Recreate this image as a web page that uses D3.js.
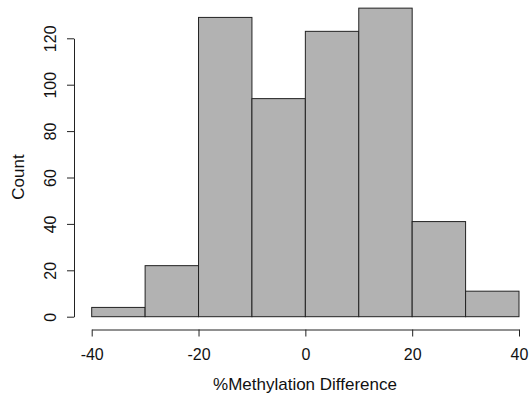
<!DOCTYPE html>
<html>
<head>
<meta charset="utf-8">
<script src="https://cdn.jsdelivr.net/npm/d3@7"></script>
<style>
  body { margin: 0; background: #fff; }
  svg { font-family: "Liberation Sans", Arial, sans-serif; }
</style>
</head>
<body>
<div id="chart"></div>
<script>
// histogram bins (lower edges) and counts
const binStarts = [-40, -30, -20, -10, 0, 10, 20, 30];
const binWidth = 10;
const counts = [4, 22, 129, 94, 123, 133, 41, 11];
const xTicks = [-40, -20, 0, 20, 40];
const yTicks = [0, 20, 40, 60, 80, 100, 120];

const width = 529, height = 397;

const x = d3.scaleLinear().domain([-40, 40]).range([91.7, 519]);
const y = d3.scaleLinear().domain([0, 120]).range([316.7, 38.3]);

const svg = d3.select('#chart').append('svg')
  .attr('width', width)
  .attr('height', height);

// bars
svg.append('g')
  .selectAll('rect')
  .data(binStarts)
  .join('rect')
  .attr('x', (d) => x(d))
  .attr('y', (d, i) => y(counts[i]))
  .attr('width', (d) => x(d + binWidth) - x(d))
  .attr('height', (d, i) => y(0) - y(counts[i]))
  .attr('fill', '#b2b2b2')
  .attr('stroke', '#222')
  .attr('stroke-width', 1);

// y axis
svg.append('g')
  .attr('transform', 'translate(74,0)')
  .call(d3.axisLeft(y).tickValues(yTicks).tickFormat((d) => String(d)).tickSize(7).tickSizeOuter(0))
  .call((g) => g.selectAll('line, path').attr('stroke', '#222'))
  .call((g) => g.selectAll('text')
    .attr('transform', 'rotate(-90)')
    .attr('text-anchor', 'middle')
    .attr('x', 0)
    .attr('y', -18.5)
    .attr('dy', 0)
    .attr('fill', '#111')
    .style('font-size', '16px')
    .style('font-family', '"Liberation Sans", Arial, sans-serif'));

// x axis
svg.append('g')
  .attr('transform', 'translate(0,329.5)')
  .call(d3.axisBottom(x).tickValues(xTicks).tickFormat((d) => String(d)).tickSize(7).tickSizeOuter(0))
  .call((g) => g.selectAll('line, path').attr('stroke', '#222'))
  .call((g) => g.selectAll('text')
    .attr('y', 30)
    .attr('dy', 0)
    .attr('fill', '#111')
    .style('font-size', '16px')
    .style('font-family', '"Liberation Sans", Arial, sans-serif'));

// axis titles
svg.append('text')
  .attr('x', 305)
  .attr('y', 389.5)
  .attr('text-anchor', 'middle')
  .attr('fill', '#111')
  .style('font-size', '17px')
  .text('%Methylation Difference');

svg.append('text')
  .attr('transform', 'translate(24,177) rotate(-90)')
  .attr('text-anchor', 'middle')
  .attr('fill', '#111')
  .style('font-size', '17px')
  .text('Count');
</script>
</body>
</html>
